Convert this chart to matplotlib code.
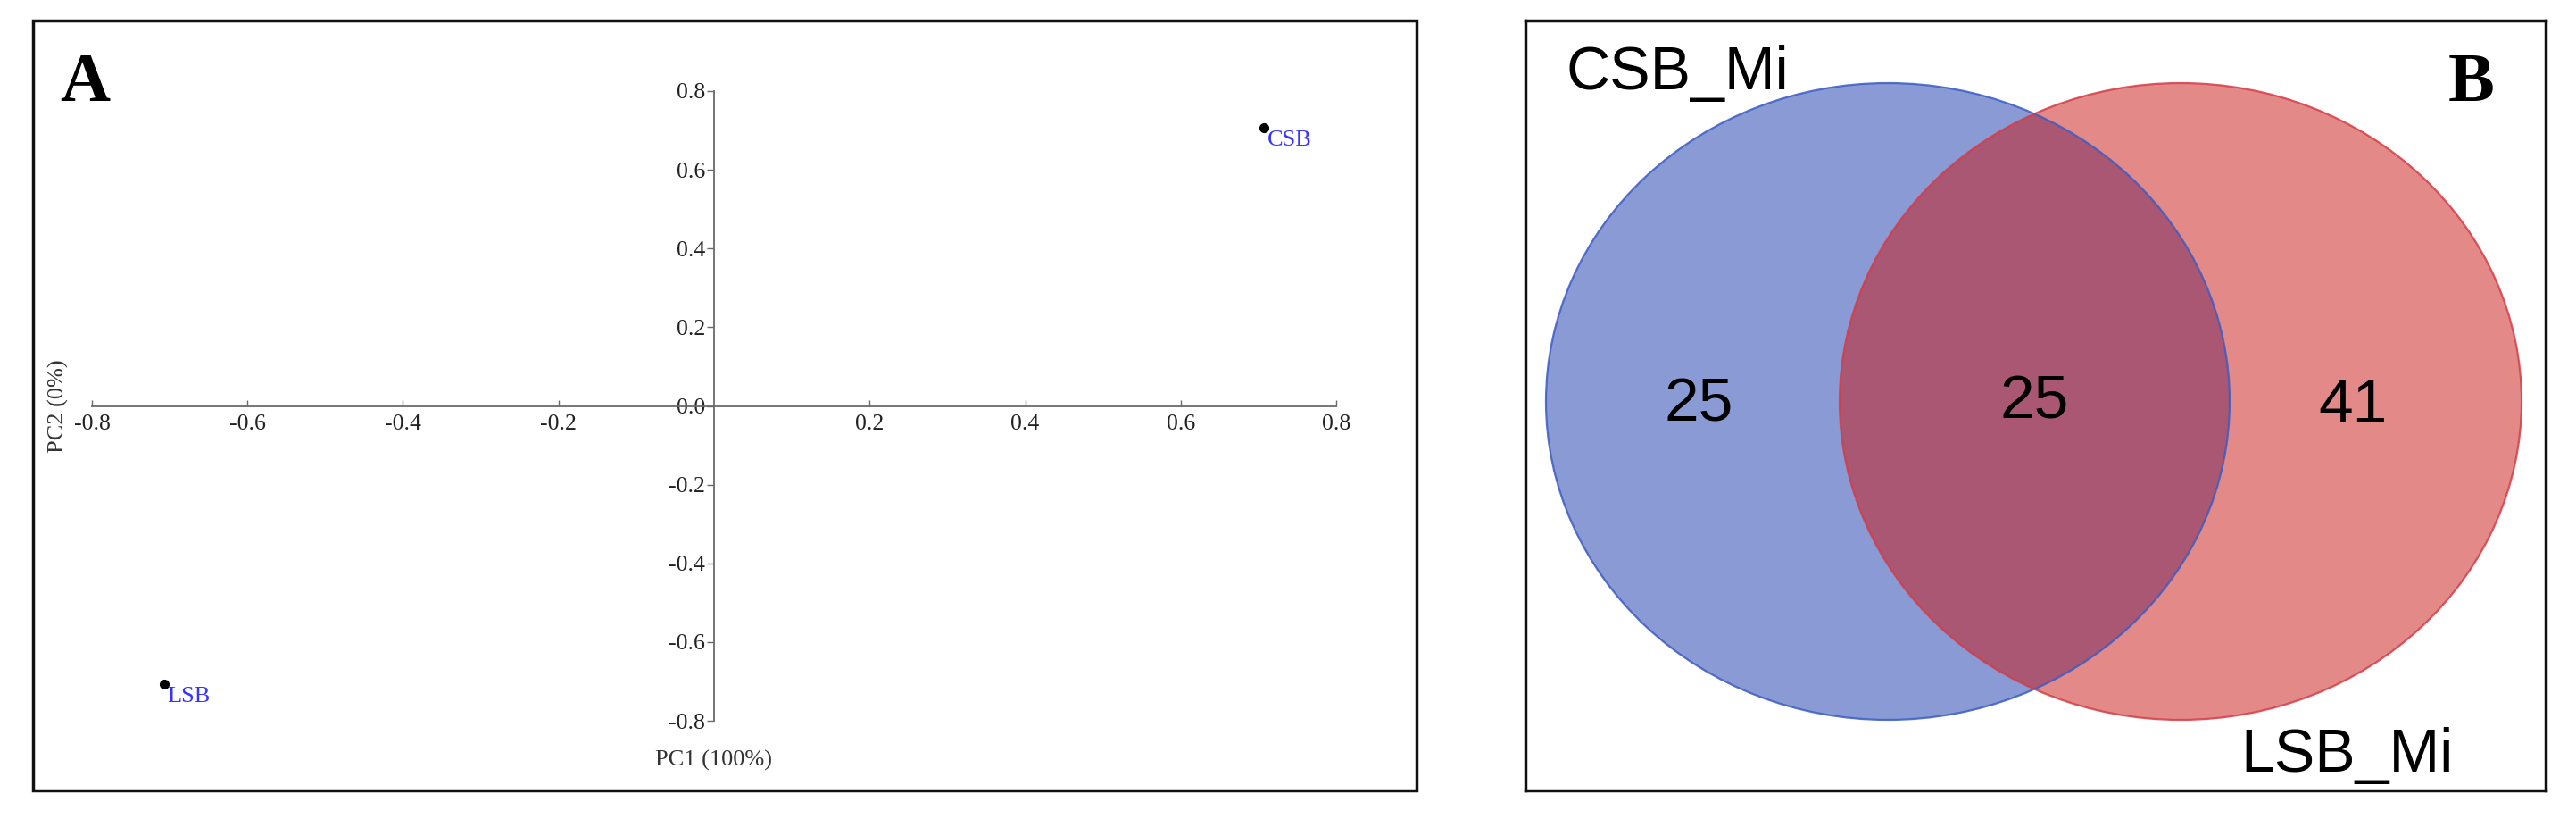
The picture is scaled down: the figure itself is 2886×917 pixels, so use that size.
import numpy as np
import matplotlib
matplotlib.use("Agg")
import matplotlib.pyplot as plt
from matplotlib.patches import Ellipse, Rectangle

# ---------------- data ----------------
samples = ["CSB", "LSB"]
pc1 = [0.707, -0.707]
pc2 = [0.707, -0.707]
pc1_label = "PC1 (100%)"
pc2_label = "PC2 (0%)"
xticks = [-0.8, -0.6, -0.4, -0.2, 0.2, 0.4, 0.6, 0.8]
yticks = [-0.8, -0.6, -0.4, -0.2, 0.0, 0.2, 0.4, 0.6, 0.8]

set_names = ["CSB_Mi", "LSB_Mi"]
venn_counts = [25, 25, 41]   # CSB only, shared, LSB only

# ---------------- figure ----------------
W, H = 2886, 917
fig = plt.figure(figsize=(W / 100, H / 100), dpi=100)
fig.patch.set_facecolor("white")

SERIF = ["Liberation Serif", "DejaVu Serif"]
SANS = ["Liberation Sans", "DejaVu Sans"]


def fx(px):
    return px / W


def fy(py):
    return 1 - py / H


# Panel A frame
fig.add_artist(Rectangle((fx(37), fy(885)), fx(1587) - fx(37), fy(23) - fy(885),
                         transform=fig.transFigure, fill=False, lw=2.5,
                         ec="#111111", zorder=0))

# Panel A axes (PCA)
axA = fig.add_axes([fx(103), fy(807), (1497 - 103) / W, (807 - 102) / H])
axA.patch.set_alpha(0)
axA.set_xlim(-0.8, 0.8)
axA.set_ylim(-0.8, 0.8)
for s in ["top", "right"]:
    axA.spines[s].set_visible(False)
for s in ["left", "bottom"]:
    axA.spines[s].set_position(("data", 0))
    axA.spines[s].set_color("#6a6a6a")
    axA.spines[s].set_linewidth(1.3)

axA.set_xticks(xticks)
axA.set_xticklabels([f"{v:.1f}" for v in xticks], family=SERIF)
axA.set_yticks(yticks)
axA.set_yticklabels([f"{v:.1f}" for v in yticks], family=SERIF)
axA.tick_params(axis="x", direction="in", length=5, width=1, color="#6a6a6a",
                pad=7, labelsize=18.5, labelcolor="#222222")
axA.tick_params(axis="y", direction="out", length=6, width=1, color="#6a6a6a",
                pad=1, labelsize=18.5, labelcolor="#222222")

axA.plot(pc1, pc2, "o", color="black", ms=7, zorder=5, clip_on=False)
for name, x, y in zip(samples, pc1, pc2):
    axA.annotate(name, xy=(x, y), xytext=(2.5, -14.5), textcoords="offset points",
                 ha="left", va="baseline", color="#3535ff", fontsize=19,
                 family=SERIF)

axA.annotate(pc1_label, xy=(0, -0.8), xytext=(0, -32), textcoords="offset points",
             ha="center", va="center", fontsize=19, color="#333333",
             family=SERIF, annotation_clip=False)
axA.annotate(pc2_label, xy=(-0.8, 0), xytext=(-27, 0), textcoords="offset points",
             ha="center", va="center", rotation=90, fontsize=19, color="#333333",
             family=SERIF, annotation_clip=False)

fig.text(fx(67), fy(113), "A", ha="left", va="baseline", fontsize=56,
         fontweight="bold", family=SERIF)

# Panel B axes (Venn)
axB = fig.add_axes([fx(1709), fy(885), (2852 - 1709) / W, (885 - 23) / H])
axB.set_xlim(1709, 2852)
axB.set_ylim(885, 23)
axB.set_xticks([])
axB.set_yticks([])
for s in axB.spines.values():
    s.set_linewidth(2.5)
    s.set_color("#111111")

blue = "#1537ab"
red = "#c91513"
axB.add_patch(Ellipse((2115, 449.5), 766, 713, facecolor=blue, alpha=0.5,
                      edgecolor="none", zorder=2))
axB.add_patch(Ellipse((2443, 449.5), 764, 713, facecolor=red, alpha=0.5,
                      edgecolor="none", zorder=3))
axB.add_patch(Ellipse((2115, 449.5), 766, 713, facecolor="none",
                      edgecolor="#3a5cc4", lw=1.6, alpha=0.85, zorder=4))
axB.add_patch(Ellipse((2443, 449.5), 764, 713, facecolor="none",
                      edgecolor="#d63c46", lw=1.6, alpha=0.85, zorder=4))

axB.text(1755, 100, set_names[0], ha="left", va="baseline", fontsize=49,
         family=SANS, zorder=6)
axB.text(2510, 864, set_names[1], ha="left", va="baseline", fontsize=49,
         family=SANS, zorder=6)
for cnt, x, yb in zip(venn_counts, [1903, 2279, 2636], [471, 468, 473]):
    axB.text(x, yb, str(cnt), ha="center", va="baseline", fontsize=50,
             family=SANS, zorder=6)
axB.text(2743, 113, "B", ha="left", va="baseline", fontsize=56,
         fontweight="bold", family=SERIF, zorder=6)

fig.savefig("out.png", dpi=100, facecolor="white")
